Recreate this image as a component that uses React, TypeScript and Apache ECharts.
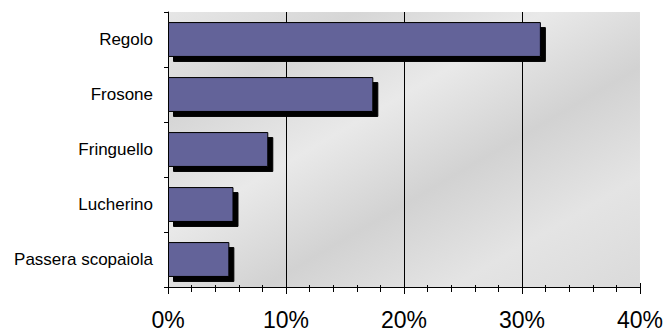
import React, { useEffect, useRef } from "react";
import * as echarts from "echarts";

const categories = ["Regolo", "Frosone", "Fringuello", "Lucherino", "Passera scopaiola"];
const values = [31.6, 17.4, 8.5, 5.55, 5.2];
const xTicks = [0, 10, 20, 30, 40];

export default function App() {
  const ref = useRef<HTMLDivElement>(null);
  useEffect(() => {
    const chart = echarts.init(ref.current!, null, { renderer: "svg" });
    chart.setOption({
      animation: false,
      grid: {
        left: 168,
        right: 26,
        top: 12,
        bottom: 43,
        show: true,
        borderWidth: 0,
        backgroundColor: {
          type: "linear",
          x: 0, y: 0, x2: 1, y2: 1,
          colorStops: [
            { offset: 0, color: "#e6e6e6" },
            { offset: 0.2, color: "#d6d6d6" },
            { offset: 0.4, color: "#e9e9e9" },
            { offset: 0.6, color: "#d2d2d2" },
            { offset: 0.8, color: "#e4e4e4" },
            { offset: 1, color: "#dadada" },
          ],
        },
      },
      xAxis: [
        {
          type: "value",
          min: xTicks[0],
          max: xTicks[xTicks.length - 1],
          interval: 10,
          axisLine: { show: true, lineStyle: { color: "#000", width: 1 } },
          axisTick: { show: true, length: 7, lineStyle: { color: "#000" } },
          minorTick: { show: true, splitNumber: 5, length: 5, lineStyle: { color: "#000" } },
          splitLine: { show: true, showMinLine: false, showMaxLine: false, lineStyle: { color: "#000", width: 1 } },
          axisLabel: {
            formatter: "{value}%",
            color: "#000",
            fontFamily: "Liberation Sans, Arial, sans-serif",
            fontSize: 23,
            margin: 21,
          },
        },
        {
          type: "value",
          position: "bottom",
          min: xTicks[0],
          max: xTicks[xTicks.length - 1],
          interval: 10,
          axisLine: { show: false },
          axisTick: { show: true, inside: true, length: 4, lineStyle: { color: "#000" } },
          minorTick: { show: true, splitNumber: 5, length: 2, lineStyle: { color: "#000" } },
          splitLine: { show: false },
          axisLabel: { show: false },
        },
      ],
      yAxis: {
        type: "category",
        data: categories,
        inverse: true,
        axisLine: { show: true, lineStyle: { color: "#000", width: 1 } },
        axisTick: { show: true, length: 4, lineStyle: { color: "#000" } },
        axisLabel: {
          color: "#000",
          fontFamily: "Liberation Sans, Arial, sans-serif",
          fontSize: 17,
          margin: 15,
        },
      },
      series: [
        {
          type: "bar",
          data: values,
          barCategoryGap: "36.6%",
          itemStyle: {
            color: "#636399",
            borderColor: "#000",
            borderWidth: 1,
            shadowColor: "#000",
            shadowBlur: 0,
            shadowOffsetX: 5,
            shadowOffsetY: 5,
          },
        },
      ],
    });
    return () => chart.dispose();
  }, []);
  return (
    <div
      ref={ref}
      style={{ position: "fixed", left: 0, top: 0, width: 666, height: 331, background: "#fff" }}
    />
  );
}
